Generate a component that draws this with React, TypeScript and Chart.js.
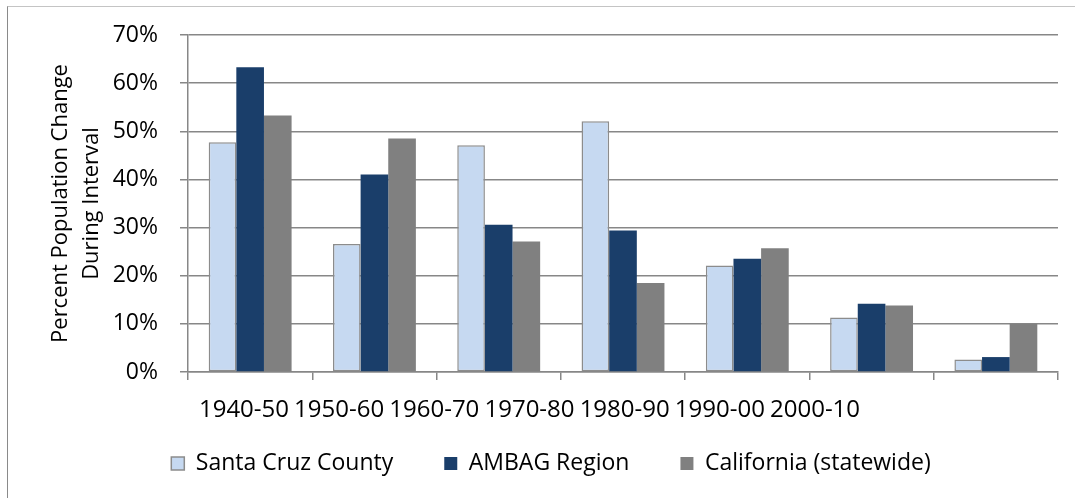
import React, { useEffect, useRef } from "react";
import { Chart, registerables } from "chart.js";

Chart.register(...registerables);

const categories = ["1940-50", "1950-60", "1960-70", "1970-80", "1980-90", "1990-00", "2000-10"];
const santaCruz = [47.7, 26.6, 47.1, 52.1, 22.1, 11.3, 2.6];
const ambag = [63.3, 41.0, 30.6, 29.4, 23.5, 14.2, 3.1];
const california = [53.3, 48.5, 27.1, 18.5, 25.7, 13.8, 10.0];
const seriesNames = ["Santa Cruz County", "AMBAG Region", "California (statewide)"];
const yTitle = ["Percent Population Change", "During Interval"];
const yMax = 70;
const yStep = 10;
// the source shows its category labels bunched to the left; this range places them there
const labelAxisMin = -0.588;
const labelAxisMax = 8.553;

const FONT = "'Open Sans', 'DejaVu Sans', sans-serif";
const AXIS_GRAY = "#878787";

export default function App() {
  const ref = useRef<HTMLCanvasElement | null>(null);

  useEffect(() => {
    if (!ref.current) return;
    Chart.defaults.font.family = FONT;
    Chart.defaults.color = "#000";
    const chart = new Chart(ref.current, {
      type: "bar",
      data: {
        labels: categories,
        datasets: [
          {
            label: seriesNames[0],
            data: santaCruz,
            backgroundColor: "#c6d9f1",
            borderColor: "#8c8c8c",
            borderWidth: 1.5,
            borderSkipped: false,
            xAxisID: "x",
            yAxisID: "y",
          },
          {
            label: seriesNames[1],
            data: ambag,
            backgroundColor: "#1a3e6a",
            borderWidth: 0,
            xAxisID: "x",
            yAxisID: "y",
          },
          {
            label: seriesNames[2],
            data: california,
            backgroundColor: "#808080",
            borderWidth: 0,
            xAxisID: "x",
            yAxisID: "y",
          },
        ],
      },
      options: {
        responsive: false,
        animation: false,
        devicePixelRatio: 1,
        layout: { padding: { left: 36, right: 17, top: 28, bottom: 22 } },
        datasets: { bar: { categoryPercentage: 0.667, barPercentage: 1 } },
        scales: {
          y: {
            min: 0,
            max: yMax,
            position: "left",
            afterFit: (s: any) => {
              s.width = 144;
              s.paddingTop = 0;
              s.paddingBottom = 0;
            },
            ticks: {
              stepSize: yStep,
              padding: 22,
              font: { size: 23 },
              color: "#000",
              callback: (v: any) => `${v}%`,
            },
            grid: { color: AXIS_GRAY, lineWidth: 1.5, tickLength: 8 },
            border: { color: AXIS_GRAY, width: 1.5 },
            title: {
              display: true,
              text: yTitle,
              font: { size: 22, lineHeight: 1.4 },
              color: "#000",
              padding: { top: 1.6, bottom: 0 },
            },
          },
          x: {
            type: "category",
            position: "bottom",
            weight: 0,
            afterFit: (s: any) => {
              s.height = 8;
            },
            ticks: { display: false },
            grid: {
              display: true,
              drawOnChartArea: false,
              drawTicks: true,
              tickLength: 8,
              color: AXIS_GRAY,
              lineWidth: 1.5,
              offset: true,
            },
            border: { color: AXIS_GRAY, width: 1.5 },
          },
          x2: {
            type: "linear",
            position: "bottom",
            weight: 1,
            offset: false,
            grace: 0,
            bounds: "data",
            min: labelAxisMin,
            max: labelAxisMax,
            afterBuildTicks: (s: any) => {
              s.ticks = categories.map((_, i) => ({ value: i }));
            },
            afterFit: (s: any) => {
              s.height = 21;
              s.paddingLeft = 0;
              s.paddingRight = 0;
            },
            grid: { display: false, drawTicks: false, offset: false },
            border: { display: false },
            ticks: {
              autoSkip: false,
              maxRotation: 0,
              minRotation: 0,
              mirror: true,
              padding: -45,
              font: { size: 24 },
              color: "#000",
              callback: (v: any) => categories[Math.round(v)] ?? "",
            },
          },
        },
        plugins: {
          legend: {
            position: "bottom",
            maxHeight: 75,
            labels: {
              boxWidth: 13,
              boxHeight: 13,
              padding: 51,
              font: { size: 23 },
              color: "#000",
            },
          },
          tooltip: { enabled: false },
          title: { display: false },
        },
      } as any,
    });
    return () => chart.destroy();
  }, []);

  return (
    <div
      style={{
        position: "absolute",
        top: 6,
        left: 7,
        width: 1067,
        height: 491,
        borderTop: "1px solid #c4c4c4",
        borderLeft: "1px solid #8a8a8a",
        background: "#fff",
      }}
    >
      <canvas ref={ref} width={1067} height={491} style={{ display: "block", width: 1067, height: 491 }} />
    </div>
  );
}
